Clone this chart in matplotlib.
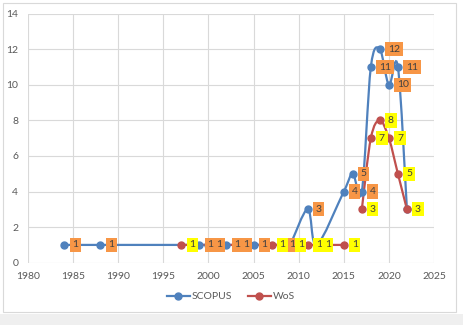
import matplotlib
matplotlib.use("Agg")
import matplotlib.pyplot as plt
from matplotlib.path import Path
from matplotlib.patches import PathPatch, Rectangle
from matplotlib.lines import Line2D

# Publications per year (None = no value, gap in line)
scopus_years  = [1984, 1988, 1999, 2000, 2002, 2003, 2005, 2008, 2009, 2011, 2012,
                 2015, 2016, 2017, 2018, 2019, 2020, 2021, 2022]
scopus_values = [1, 1, 1, 1, 1, 1, 1, 1, 1, 3, 1, 4, 5, 4, 11, 12, 10, 11, 3]

wos_years  = [1997, 2007, 2009, 2011, 2012, 2015, 2016, 2017, 2018, 2019, 2020, 2021, 2022]
wos_values = [1, 1, 1, 1, 1, 1, None, 3, 7, 8, 7, 5, 3]

x_ticks = [1980, 1985, 1990, 1995, 2000, 2005, 2010, 2015, 2020, 2025]
y_ticks = [0, 2, 4, 6, 8, 10, 12, 14]

BLUE   = '#4f81bd'
RED    = '#c0504d'
ORANGE = '#f79646'
YELLOW = '#ffff00'
GRID   = '#d9d9d9'
TEXT   = '#595959'

plt.rcParams['font.family'] = ['Lato', 'DejaVu Sans']


def smooth_path(xs, ys):
    # Excel-like smoothed line: cubic bezier through each point
    pts = list(zip(xs, ys))
    verts = [pts[0]]
    codes = [Path.MOVETO]
    for i in range(len(pts) - 1):
        p0 = pts[i - 1] if i > 0 else pts[i]
        p1 = pts[i]
        p2 = pts[i + 1]
        p3 = pts[i + 2] if i + 2 < len(pts) else pts[i + 1]
        c1 = (p1[0] + (p2[0] - p0[0]) / 6, p1[1] + (p2[1] - p0[1]) / 6)
        c2 = (p2[0] - (p3[0] - p1[0]) / 6, p2[1] - (p3[1] - p1[1]) / 6)
        verts += [c1, c2, p2]
        codes += [Path.CURVE4] * 3
    return Path(verts, codes)


def draw_series(ax, xs, ys, color, z):
    # split at missing values, each run gets its own smoothed line
    run_x, run_y = [], []
    for x, y in list(zip(xs, ys)) + [(None, None)]:
        if y is None:
            if len(run_x) > 1:
                ax.add_patch(PathPatch(smooth_path(run_x, run_y), facecolor='none',
                                       edgecolor=color, lw=1.6, zorder=z))
            run_x, run_y = [], []
        else:
            run_x.append(x)
            run_y.append(y)


fig = plt.figure(figsize=(4.64, 3.25), dpi=100)
fig.patch.set_facecolor('white')

# chart frame and window strip
fig.patches.append(Rectangle((3.3 / 464, 1 - 311.7 / 325), 452.4 / 464, 308.4 / 325,
                             transform=fig.transFigure, facecolor='none',
                             edgecolor='#d9d9d9', lw=0.8))
fig.patches.append(Rectangle((0, 0), 1, 11 / 325, transform=fig.transFigure,
                             facecolor='#efefef', edgecolor='none'))

ax = fig.add_axes([28 / 464, 1 - 262.7 / 325, 406 / 464, 249 / 325])
ax.set_xlim(1980, 2025)
ax.set_ylim(0, 14)
ax.set_xticks(x_ticks)
ax.set_yticks(y_ticks)
ax.grid(True, color=GRID, lw=0.8)
ax.set_axisbelow(True)
for s in ax.spines.values():
    s.set_visible(False)
ax.tick_params(length=0, labelsize=7.5, labelcolor=TEXT, pad=7)

# lines
draw_series(ax, scopus_years, scopus_values, BLUE, 2)
draw_series(ax, wos_years, wos_values, RED, 2.1)

# markers
wos_plot = [float('nan') if v is None else v for v in wos_values]
ax.plot(scopus_years, scopus_values, 'o', color=BLUE, ms=5, zorder=3)
ax.plot(wos_years, wos_plot, 'o', color=RED, ms=5, zorder=3.1)

# data labels
for x, y in zip(scopus_years, scopus_values):
    ax.annotate(str(y), (x, y), xytext=(5.8, 0), textcoords='offset points',
                ha='left', va='center', fontsize=7.5, color='#404040', zorder=4,
                bbox=dict(boxstyle='square,pad=0.25', fc=ORANGE, ec='none'))
for x, y in zip(wos_years, wos_values):
    if y is None:
        continue
    ax.annotate(str(y), (x, y), xytext=(5.8, 0), textcoords='offset points',
                ha='left', va='center', fontsize=7.5, color='#404040', zorder=5,
                bbox=dict(boxstyle='square,pad=0.25', fc=YELLOW, ec='none'))

handles = [Line2D([], [], color=BLUE, marker='o', ms=5, lw=1.6),
           Line2D([], [], color=RED, marker='o', ms=5, lw=1.6)]
fig.legend(handles, ['SCOPUS', 'WoS'], loc='center', bbox_to_anchor=(231 / 464, 1 - 296.5 / 325),
           ncol=2, frameon=False, fontsize=7.5, labelcolor=TEXT, handlelength=2.2,
           handletextpad=0.2, columnspacing=1.5)

fig.savefig('out.png', dpi=100)
